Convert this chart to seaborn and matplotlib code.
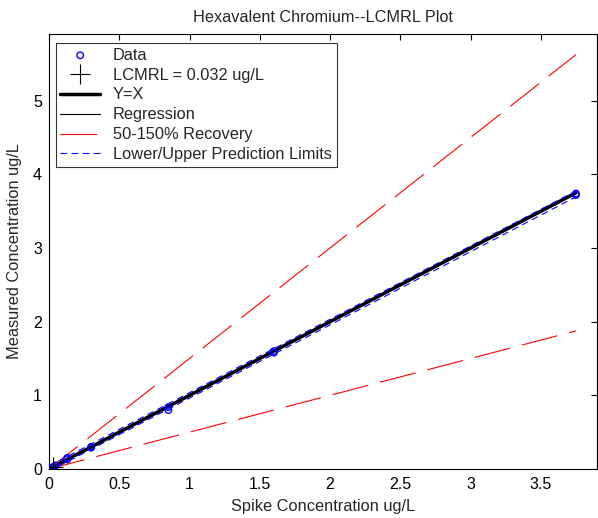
import matplotlib
matplotlib.use("Agg")
import matplotlib.pyplot as plt
import numpy as np
import pandas as pd
import seaborn as sns

# spike levels and measured concentrations (ug/L)
spike = [0.0, 0.0, 0.032, 0.05, 0.13, 0.13, 0.30, 0.30, 0.85, 0.85, 1.60, 1.60, 3.75, 3.75]
measured = [0.0, 0.01, 0.03, 0.05, 0.13, 0.15, 0.29, 0.30, 0.80, 0.84, 1.58, 1.60, 3.72, 3.74]

lcmrl = 0.032
line_x = [0.0, 3.75]
yx_y = [0.0, 3.75]
reg_y = [0.0, 3.735]
rec50_y = [0.0, 1.875]
rec150_y = [0.0, 5.625]
pl_lower = [-0.03, 3.695]
pl_upper = [0.04, 3.775]

sns.set_style("white")
plt.rcParams["font.family"] = ["Liberation Sans", "DejaVu Sans"]
plt.rcParams["font.size"] = 11

fig = plt.figure(figsize=(5.98, 5.18), dpi=100)
ax = fig.add_axes([49 / 598, 1 - 469 / 518, 548 / 598, 435 / 518])

df = pd.DataFrame({"x": spike, "y": measured})
sns.scatterplot(data=df, x="x", y="y", ax=ax, marker="o", s=22,
                facecolor="none", edgecolor="blue", linewidth=1,
                label="Data", zorder=5)

ax.plot([lcmrl], [lcmrl], marker="+", color="black", markersize=14,
        markeredgewidth=0.8, linestyle="none", label="LCMRL = 0.032 ug/L",
        zorder=6)

sns.lineplot(x=line_x, y=yx_y, ax=ax, color="black", linewidth=2.5, label="Y=X")
sns.lineplot(x=line_x, y=reg_y, ax=ax, color="black", linewidth=0.8, label="Regression")

ax.plot(line_x, rec50_y, color="red", linewidth=0.8, dashes=(33, 11),
        label="50-150% Recovery")
ax.plot(line_x, rec150_y, color="red", linewidth=0.8, dashes=(33, 11))
ax.plot(line_x, pl_lower, color="blue", linewidth=0.8, dashes=(6, 4),
        label="Lower/Upper Prediction Limits")
ax.plot(line_x, pl_upper, color="blue", linewidth=0.8, dashes=(6, 4))

ax.set_xlim(0, 3.9)
ax.set_ylim(0, 5.906)
ax.set_xticks(np.arange(0, 3.51, 0.5))
ax.set_xticklabels(["0", "0.5", "1", "1.5", "2", "2.5", "3", "3.5"])
ax.set_yticks(range(6))
ax.tick_params(direction="in", length=4, width=0.8, top=True, right=True,
               colors="black", labelsize=11.5)
ax.tick_params(axis="x", pad=6)
ax.tick_params(axis="y", pad=5)
for sp in ax.spines.values():
    sp.set_color("black")
    sp.set_linewidth(0.8)

ax.set_xlabel("Spike Concentration ug/L", fontsize=11.8, labelpad=5)
ax.set_ylabel("Measured Concentration ug/L", fontsize=11.8, labelpad=8)
ax.set_title("Hexavalent Chromium--LCMRL Plot", fontsize=11.7, pad=9)

leg = ax.legend(loc="upper left", bbox_to_anchor=(0.012, 0.98), fontsize=11.8,
                frameon=True, fancybox=False, edgecolor="black",
                handlelength=2.4, labelspacing=0.3, borderpad=0.3,
                handletextpad=0.8, borderaxespad=0)
leg.get_frame().set_linewidth(0.8)

fig.savefig("out.png", dpi=100)
